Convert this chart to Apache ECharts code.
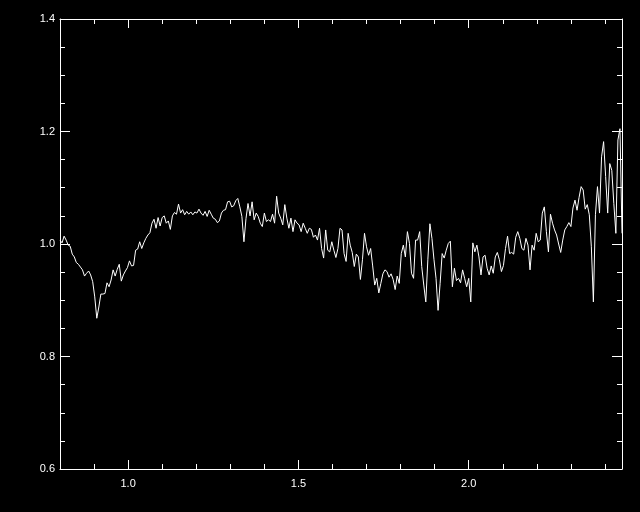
<!DOCTYPE html>
<html>
<head>
<meta charset="utf-8">
<script src="https://cdn.jsdelivr.net/npm/echarts@6/dist/echarts.min.js"></script>
<style>
html,body{margin:0;padding:0;background:#000;}
#chart{width:640px;height:512px;}
</style>
</head>
<body>
<div id="chart"></div>
<script>
const wavelength = [
0.800,0.806,0.812,0.818,0.824,0.830,0.836,0.842,0.848,0.854,
0.860,0.866,0.872,0.878,0.884,0.890,0.896,0.902,0.908,0.914,
0.920,0.926,0.932,0.938,0.944,0.950,0.956,0.962,0.968,0.974,
0.980,0.986,0.992,0.998,1.004,1.010,1.016,1.022,1.028,1.034,
1.040,1.046,1.052,1.058,1.064,1.070,1.076,1.082,1.088,1.094,
1.100,1.106,1.112,1.118,1.124,1.130,1.136,1.142,1.148,1.154,
1.160,1.166,1.172,1.178,1.184,1.190,1.196,1.202,1.208,1.214,
1.220,1.226,1.232,1.238,1.244,1.250,1.256,1.262,1.268,1.274,
1.280,1.286,1.292,1.298,1.304,1.310,1.316,1.322,1.328,1.334,
1.340,1.346,1.352,1.358,1.364,1.370,1.376,1.382,1.388,1.394,
1.400,1.406,1.412,1.418,1.424,1.430,1.436,1.442,1.448,1.454,
1.460,1.466,1.472,1.478,1.484,1.490,1.496,1.502,1.508,1.514,
1.520,1.526,1.532,1.538,1.544,1.550,1.556,1.562,1.568,1.574,
1.580,1.586,1.592,1.598,1.604,1.610,1.616,1.622,1.628,1.634,
1.640,1.646,1.652,1.658,1.664,1.670,1.676,1.682,1.688,1.694,
1.700,1.706,1.712,1.718,1.724,1.730,1.736,1.742,1.748,1.754,
1.760,1.766,1.772,1.778,1.784,1.790,1.796,1.802,1.808,1.814,
1.820,1.826,1.832,1.838,1.844,1.850,1.856,1.862,1.868,1.874,
1.880,1.886,1.892,1.898,1.904,1.910,1.916,1.922,1.928,1.934,
1.940,1.946,1.952,1.958,1.964,1.970,1.976,1.982,1.988,1.994,
2.000,2.006,2.012,2.018,2.024,2.030,2.036,2.042,2.048,2.054,
2.060,2.066,2.072,2.078,2.084,2.090,2.096,2.102,2.108,2.114,
2.120,2.126,2.132,2.138,2.144,2.150,2.156,2.162,2.168,2.174,
2.180,2.186,2.192,2.198,2.204,2.210,2.216,2.222,2.228,2.234,
2.240,2.246,2.252,2.258,2.264,2.270,2.276,2.282,2.288,2.294,
2.300,2.306,2.312,2.318,2.324,2.330,2.336,2.342,2.348,2.354,
2.360,2.366,2.372,2.378,2.384,2.390,2.396,2.402,2.408,2.414,
2.420,2.426,2.432,2.438,2.444,2.450
];
const flux = [
1.007,1.002,1.014,1.007,0.998,0.996,0.982,0.977,0.967,0.964,
0.959,0.954,0.943,0.948,0.952,0.945,0.933,0.906,0.868,0.888,
0.911,0.911,0.912,0.931,0.924,0.936,0.954,0.943,0.955,0.964,
0.934,0.945,0.952,0.958,0.970,0.961,0.962,0.989,0.991,1.004,
0.992,1.002,1.010,1.016,1.020,1.037,1.044,1.028,1.047,1.032,
1.047,1.050,1.037,1.041,1.026,1.050,1.056,1.053,1.071,1.055,
1.061,1.052,1.058,1.053,1.057,1.052,1.057,1.055,1.062,1.055,
1.051,1.058,1.049,1.060,1.053,1.046,1.044,1.038,1.041,1.055,
1.060,1.061,1.075,1.076,1.066,1.068,1.077,1.081,1.066,1.049,
1.004,1.045,1.072,1.050,1.075,1.043,1.055,1.049,1.037,1.031,
1.055,1.040,1.043,1.040,1.053,1.037,1.085,1.055,1.046,1.034,
1.070,1.046,1.028,1.046,1.022,1.043,1.037,1.034,1.022,1.037,
1.028,1.019,1.028,1.026,1.012,1.016,1.007,1.028,0.992,0.975,
1.025,0.989,0.986,1.004,0.989,0.976,0.992,1.028,1.025,0.983,
0.969,1.019,0.998,0.985,0.960,0.982,0.977,0.937,0.972,1.019,
0.995,0.980,0.992,0.961,0.927,0.939,0.913,0.930,0.947,0.954,
0.951,0.941,0.947,0.937,0.919,0.943,0.930,0.983,0.998,0.977,
1.022,1.001,0.948,0.939,1.007,1.007,1.022,0.960,0.927,0.897,
0.972,1.036,1.010,0.972,0.939,0.882,0.930,0.983,0.975,0.989,
1.001,1.005,0.924,0.957,0.935,0.939,0.931,0.954,0.939,0.924,
0.939,0.897,1.002,0.986,0.998,0.977,0.945,0.977,0.980,0.957,
0.945,0.961,0.948,0.977,0.985,0.972,0.951,0.962,0.992,1.014,
0.983,0.985,0.982,1.012,1.022,1.010,0.992,0.989,1.010,0.998,
0.954,0.998,0.989,1.019,1.004,1.007,1.055,1.066,1.022,0.986,
1.053,1.037,1.025,1.016,1.000,0.985,1.007,1.025,1.031,1.038,
1.031,1.064,1.078,1.060,1.083,1.102,1.096,1.062,1.070,1.052,
0.995,0.897,1.052,1.102,1.055,1.155,1.182,1.120,1.055,1.143,
1.131,1.072,1.019,1.185,1.205,1.019
];
const xMajorTicks = [1.0, 1.5, 2.0];
const xRange = [0.8, 2.45];
const yRange = [0.6, 1.4];

const chart = echarts.init(document.getElementById('chart'), null, {renderer: 'canvas'});
const white = '#ffffff';
const labelStyle = {color: white, fontSize: 11, fontFamily: 'Liberation Sans, DejaVu Sans, sans-serif'};

function xMinorAxis(pos) {
  return {
    type: 'value', position: pos, min: xRange[0], max: xRange[1], interval: 0.1,
    axisLine: {show: true, onZero: false, lineStyle: {color: white, width: 1}},
    axisTick: {show: true, inside: true, length: 5, lineStyle: {color: white}},
    axisLabel: {show: false}, splitLine: {show: false}
  };
}
function xMajorAxis(pos, labels) {
  return {
    type: 'value', position: pos, min: xRange[0], max: xRange[1],
    axisLine: {show: false, onZero: false},
    axisTick: {show: true, inside: true, length: 9, customValues: xMajorTicks, lineStyle: {color: white}},
    axisLabel: Object.assign({show: labels, customValues: xMajorTicks, margin: 9,
      formatter: v => v.toFixed(1)}, labelStyle),
    splitLine: {show: false}
  };
}
function yAxisDef(pos, labels) {
  return {
    type: 'value', position: pos, min: yRange[0], max: yRange[1], interval: 0.2,
    axisLine: {show: true, onZero: false, lineStyle: {color: white, width: 1}},
    axisTick: {show: true, inside: true, length: 10, lineStyle: {color: white}},
    minorTick: {show: true, splitNumber: 4, length: 5, lineStyle: {color: white}},
    axisLabel: Object.assign({show: labels, margin: 5, formatter: v => v.toFixed(1)}, labelStyle),
    splitLine: {show: false}, minorSplitLine: {show: false}
  };
}

chart.setOption({
  backgroundColor: '#000000',
  animation: false,
  grid: {left: 60, right: 18, top: 19, bottom: 43, containLabel: false},
  xAxis: [xMinorAxis('bottom'), xMajorAxis('bottom', true), xMinorAxis('top'), xMajorAxis('top', false)],
  yAxis: [yAxisDef('left', true), yAxisDef('right', false)],
  series: [{
    type: 'line',
    xAxisIndex: 0, yAxisIndex: 0,
    data: wavelength.map((w, i) => [w, flux[i]]),
    showSymbol: false,
    lineStyle: {color: white, width: 1},
    clip: true
  }]
});
</script>
</body>
</html>
